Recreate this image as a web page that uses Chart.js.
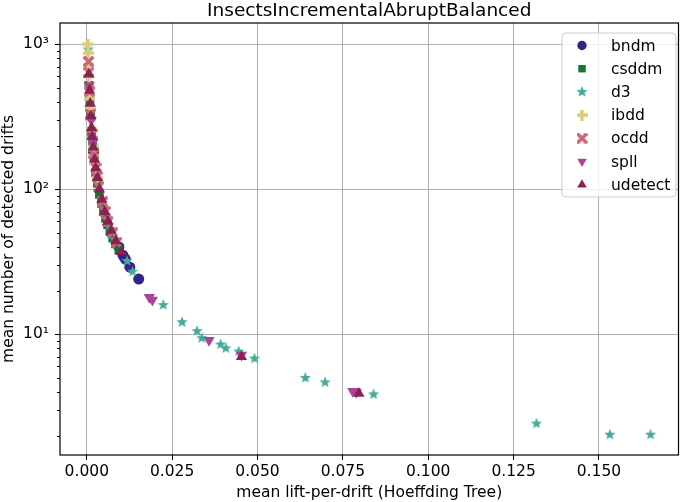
<!DOCTYPE html>
<html>
<head>
<meta charset="utf-8">
<script src="https://cdn.jsdelivr.net/npm/chart.js@4/dist/chart.umd.min.js"></script>
<style>
  html, body { margin: 0; padding: 0; background: #fff; }
  #wrap { width: 685px; height: 502px; position: relative; }
</style>
</head>
<body>
<div id="wrap"><canvas id="grafico"></canvas></div>
<script>
const chartTitle = 'InsectsIncrementalAbruptBalanced';
const xTitle = 'mean lift-per-drift (Hoeffding Tree)';
const yTitle = 'mean number of detected drifts';

const detectors = ['bndm', 'csddm', 'd3', 'ibdd', 'ocdd', 'spll', 'udetect'];
const colores = ['#332288', '#117733', '#44AA99', '#DDCC77', '#CC6677', '#AA4499', '#882255'];

const xTicks = [0, 0.025, 0.05, 0.075, 0.1, 0.125, 0.15];
const yMajor = [10, 100, 1000];
const yMajorLabels = ['10\u00B9', '10\u00B2', '10\u00B3'];

// lift-per-drift (x) and number of drifts (y), one pair per detector
const bndmLift = [0.0020, 0.0094, 0.0106, 0.0113, 0.0126, 0.0152];
const bndmDrifts = [180, 40, 35, 33, 29, 24];

const csddmLift = [0.0006, 0.0009, 0.0011, 0.0014, 0.0017, 0.0021, 0.0026, 0.0031, 0.0037, 0.0043, 0.0049, 0.0055, 0.0061, 0.0068, 0.0076, 0.0084, 0.0094];
const csddmDrifts = [520, 400, 330, 250, 200, 160, 130, 110, 92, 80, 70, 63, 57, 51, 46, 42, 38];

const d3Lift = [0.0004, 0.0019, 0.0065, 0.0082, 0.0118, 0.0134, 0.0224, 0.0279, 0.0323, 0.0337, 0.0392, 0.0407, 0.0445, 0.0491, 0.0640, 0.0698, 0.0840, 0.1317, 0.1532, 0.1651];
const d3Drifts = [920, 200, 57, 45, 32, 27, 15.9, 12.1, 10.5, 9.4, 8.5, 8.0, 7.6, 6.8, 5.0, 4.66, 3.85, 2.42, 2.03, 2.03];

const ibddLift = [0.0003, 0.0004, 0.0005, 0.0006, 0.0007, 0.0009, 0.0010, 0.0012, 0.0014, 0.0016, 0.0019, 0.0021, 0.0024, 0.0027, 0.0030];
const ibddDrifts = [1000, 870, 720, 600, 500, 420, 360, 300, 260, 225, 195, 170, 150, 135, 120];

const ocddLift = [0.0005, 0.0006, 0.0008, 0.0011, 0.0016, 0.0021, 0.0027, 0.0030, 0.0035, 0.0046, 0.0054, 0.0062, 0.0075, 0.0088];
const ocddDrifts = [760, 640, 470, 330, 240, 175, 140, 122, 104, 82, 70, 60, 50, 43];

const spllLift = [0.0007, 0.0013, 0.0018, 0.0183, 0.0192, 0.0358, 0.0453, 0.0779, 0.0789];
const spllDrifts = [520, 300, 210, 18.0, 17.2, 9.1, 7.2, 4.04, 4.0];

const udetectLift = [0.0006, 0.0008, 0.0010, 0.0012, 0.0014, 0.0016, 0.0019, 0.0023, 0.0026, 0.0031, 0.0037, 0.0044, 0.0053, 0.0062, 0.0071, 0.0085, 0.0100, 0.0453, 0.0797];
const udetectDrifts = [620, 480, 390, 320, 265, 230, 195, 160, 140, 120, 100, 85, 70, 60, 52, 44, 37, 7.0, 3.9];

const lifts = [bndmLift, csddmLift, d3Lift, ibddLift, ocddLift, spllLift, udetectLift];
const drifts = [bndmDrifts, csddmDrifts, d3Drifts, ibddDrifts, ocddDrifts, spllDrifts, udetectDrifts];

const FONT = 'DejaVu Sans';

// filled marker shapes that Chart.js doesn't have
function marker(size, color, draw) {
    const c = document.createElement('canvas');
    c.width = size; c.height = size;
    const g = c.getContext('2d');
    g.fillStyle = color;
    draw(g, size);
    return c;
}
function star(g, s) {
    const R = s / 2, r = R * 0.42;
    g.beginPath();
    for (let i = 0; i < 10; i++) {
        const a = -Math.PI / 2 + i * Math.PI / 5;
        const rr = i % 2 ? r : R;
        g.lineTo(s / 2 + rr * Math.cos(a), s / 2 + rr * Math.sin(a));
    }
    g.closePath(); g.fill();
}
function plus(g, s) {
    const t = s / 3;
    g.fillRect(0, t, s, t);
    g.fillRect(t, 0, t, s);
}
function xmark(g, s) {
    g.translate(s / 2, s / 2);
    g.rotate(Math.PI / 4);
    const L = s * 0.62, w = s * 0.32;
    g.fillRect(-L, -w / 2, 2 * L, w);
    g.fillRect(-w / 2, -L, w, 2 * L);
}

const estilos = [
    { pointStyle: 'circle', radius: 5.5, rotation: 0 },
    { pointStyle: 'rect', radius: 6.2, rotation: 0 },
    { pointStyle: marker(12, colores[2], star), radius: 5, rotation: 0 },
    { pointStyle: marker(11, colores[3], plus), radius: 5, rotation: 0 },
    { pointStyle: marker(11, colores[4], xmark), radius: 5, rotation: 0 },
    { pointStyle: 'triangle', radius: 6.5, rotation: 180 },
    { pointStyle: 'triangle', radius: 6.5, rotation: 0 }
];

const datasets = detectors.map((name, i) => ({
    label: name,
    data: lifts[i].map((x, k) => ({ x: x, y: drifts[i][k] })),
    backgroundColor: colores[i],
    borderWidth: 0,
    pointStyle: estilos[i].pointStyle,
    pointRadius: estilos[i].radius,
    pointHoverRadius: estilos[i].radius,
    rotation: estilos[i].rotation,
    order: detectors.length - i
}));

const isMajor = v => yMajor.some(m => Math.abs(m - v) < 1e-9);

const yTickValues = [];
[1, 10, 100].forEach(base => {
    for (let d = 1; d <= 9; d++) yTickValues.push(base * d);
});
yTickValues.push(1000);

const decorPlugin = {
    id: 'decor',
    afterDraw(chart) {
        const ctx = chart.ctx;
        const a = chart.chartArea;
        const ys = chart.scales.y;
        ctx.save();
        // minor ticks on the log axis
        ctx.strokeStyle = '#000';
        ctx.lineWidth = 1;
        yTickValues.forEach(v => {
            if (isMajor(v) || v < ys.min || v > ys.max) return;
            const py = Math.round(ys.getPixelForValue(v)) + 0.5;
            ctx.beginPath();
            ctx.moveTo(a.left - 3, py);
            ctx.lineTo(a.left, py);
            ctx.stroke();
        });
        // frame
        ctx.lineWidth = 1.2;
        ctx.strokeRect(a.left, a.top, a.right - a.left, a.bottom - a.top);
        // title
        ctx.fillStyle = '#000';
        ctx.font = '18.5px "' + FONT + '"';
        ctx.textAlign = 'center';
        ctx.textBaseline = 'alphabetic';
        ctx.fillText(chartTitle, (a.left + a.right) / 2, 16);
        // legend box
        const bx = 562, by = 33, bw = 114, bh = 164;
        ctx.beginPath();
        ctx.roundRect(bx, by, bw, bh, 4);
        ctx.fillStyle = 'rgba(255,255,255,0.8)';
        ctx.fill();
        ctx.strokeStyle = '#cccccc';
        ctx.lineWidth = 1;
        ctx.stroke();
        ctx.font = '15.5px "' + FONT + '"';
        ctx.textAlign = 'left';
        ctx.textBaseline = 'middle';
        chart.data.datasets.forEach((ds, i) => {
            const cy = by + 12.5 + i * 23.2;
            ctx.fillStyle = ds.backgroundColor;
            Chart.helpers.drawPoint(ctx, {
                pointStyle: ds.pointStyle,
                radius: estilos[i].radius * 0.85,
                rotation: ds.rotation,
                borderWidth: 0
            }, bx + 20, cy);
            ctx.fillStyle = '#000';
            ctx.fillText(ds.label, bx + 49, cy + 1);
        });
        ctx.restore();
    }
};

const ctx = document.getElementById('grafico').getContext('2d');
const chartObj = new Chart(ctx, {
    type: 'scatter',
    data: { datasets: datasets },
    plugins: [decorPlugin],
    options: {
        responsive: true,
        maintainAspectRatio: false,
        animation: false,
        events: [],
        layout: { padding: { top: 23, right: 2, left: 0, bottom: 0 } },
        plugins: {
            legend: { display: false },
            tooltip: { enabled: false },
            title: { display: false }
        },
        scales: {
            x: {
                type: 'linear',
                min: -0.00785,
                max: 0.1733,
                afterBuildTicks: s => { s.ticks = xTicks.map(v => ({ value: v })); },
                afterFit: s => { s.height = 47; },
                grid: { color: '#b0b0b0', lineWidth: 1, tickColor: '#000', tickLength: 5, drawOnChartArea: true },
                border: { display: false },
                ticks: {
                    autoSkip: false,
                    maxRotation: 0,
                    padding: 3,
                    color: '#000',
                    font: { family: FONT, size: 15.5 },
                    callback: v => Number(v).toFixed(3)
                },
                title: {
                    display: true,
                    text: xTitle,
                    color: '#000',
                    font: { family: FONT, size: 15.5 },
                    padding: { top: 0, bottom: 0 }
                }
            },
            y: {
                type: 'logarithmic',
                min: 1.47,
                max: 1400,
                afterBuildTicks: s => { s.ticks = yTickValues.filter(v => v >= 1.47 && v <= 1400).map(v => ({ value: v, major: isMajor(v) })); },
                afterFit: s => { s.width = 60; },
                grid: {
                    color: c => (c.tick && isMajor(c.tick.value)) ? '#b0b0b0' : 'rgba(0,0,0,0)',
                    tickColor: c => (c.tick && isMajor(c.tick.value)) ? '#000' : 'rgba(0,0,0,0)',
                    lineWidth: 1,
                    tickLength: 5
                },
                border: { display: false },
                ticks: {
                    autoSkip: false,
                    padding: 6,
                    color: '#000',
                    font: { family: FONT, size: 15.5 },
                    callback: v => {
                        const k = yMajor.findIndex(m => Math.abs(m - v) < 1e-9);
                        return k >= 0 ? yMajorLabels[k] : '';
                    }
                },
                title: {
                    display: true,
                    text: yTitle,
                    color: '#000',
                    font: { family: FONT, size: 15.5 },
                    padding: { top: 0, bottom: 0 }
                }
            }
        }
    }
});
</script>
</body>
</html>
